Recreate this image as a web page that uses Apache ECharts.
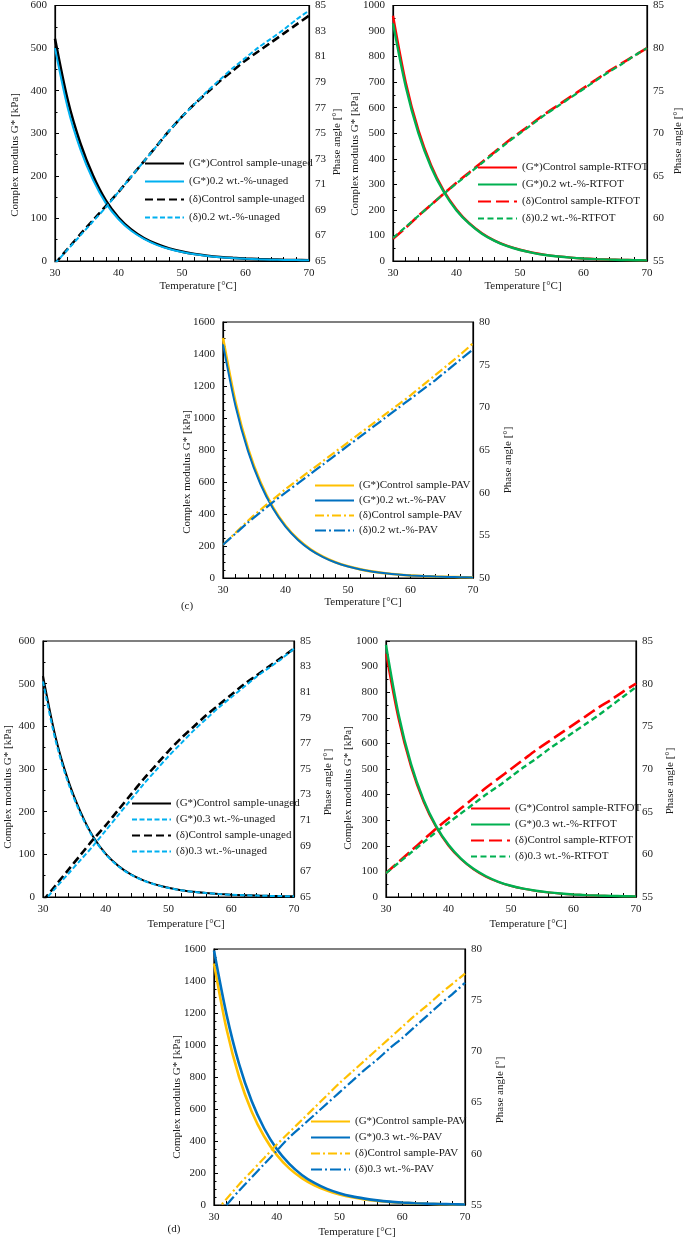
<!DOCTYPE html>
<html>
<head>
<meta charset="utf-8">
<script src="https://cdn.jsdelivr.net/npm/echarts@6/dist/echarts.min.js"></script>
<style>
html,body{margin:0;padding:0;background:#fff;}
#chart{width:685px;height:1239px;}
</style>
</head>
<body>
<div id="chart"></div>
<script>
// Temperature [°C]
const temps = [30,32,34,36,38,40,42,44,46,48,50,52,54,56,58,60,62,64,66,68,70];

// Panel 1: unaged, 0.2 wt.-%
const g1Control = [522,378,276,200,142,102,74,54,40,29.5,22,16.5,12.5,9.5,7.3,5.6,4.4,3.5,2.8,2.2,1.8];
const g1Mod     = [500,360,262,190,136,98,71,52,38,28,21,15.7,11.9,9,6.9,5.3,4.1,3.2,2.6,2.1,1.7];
const d1Control = [64.8,65.95,67.1,68.2,69.3,70.4,71.6,72.8,74.0,75.2,76.3,77.3,78.2,79.1,79.9,80.7,81.4,82.1,82.8,83.5,84.2];
const d1Mod     = [64.8,65.9,67.0,68.1,69.2,70.4,71.6,72.8,74.0,75.2,76.3,77.3,78.3,79.2,80.1,80.9,81.7,82.4,83.1,83.9,84.6];

// Panel 2: RTFOT, 0.2 wt.-%
const g2Control = [960,700,512,375,275,202,148,109,80,59,44,32.5,24,18,13.4,10,7.5,5.7,4.3,3.3,2.5];
const g2Mod     = [930,683,500,367,270,198,146,107,79,58,43,32,23.6,17.6,13.1,9.8,7.3,5.5,4.2,3.2,2.4];
const d2Control = [57.6,58.9,60.3,61.6,62.9,64.2,65.4,66.6,67.8,69.0,70.1,71.2,72.3,73.3,74.3,75.3,76.3,77.3,78.2,79.1,80.0];
const d2Mod     = [57.7,59.0,60.3,61.6,62.9,64.1,65.3,66.5,67.7,68.9,70.0,71.1,72.2,73.2,74.2,75.2,76.2,77.2,78.1,79.1,80.0];

// Panel 3 (c): PAV, 0.2 wt.-%
const g3Control = [1500,1100,810,598,442,327,242,179,133,98,73,54,40,30,22,16.5,12.3,9.2,6.9,5.2,3.9];
const g3Mod     = [1460,1075,793,586,434,321,238,176,131,97,72,53,39.5,29.5,21.8,16.2,12.1,9,6.8,5.1,3.8];
const d3Control = [53.9,55.3,56.7,58.0,59.2,60.4,61.5,62.6,63.7,64.8,65.9,67.0,68.1,69.2,70.3,71.4,72.6,73.8,75.0,76.2,77.5];
const d3Mod     = [53.9,55.2,56.5,57.7,58.9,60.0,61.1,62.2,63.3,64.4,65.5,66.6,67.7,68.8,69.9,71.0,72.1,73.2,74.4,75.6,76.8];

// Panel 4: unaged, 0.3 wt.-%
const g4Control = [518,375,274,199,141,101,73,53,39,29,21.5,16,12.2,9.3,7.1,5.5,4.3,3.4,2.7,2.2,1.8];
const g4Mod     = [505,367,268,195,139,100,72,52.5,38.5,28.6,21.2,15.8,12,9.2,7,5.4,4.2,3.3,2.6,2.1,1.7];
const d4Control = [64.7,65.9,67.1,68.3,69.5,70.6,71.8,73.0,74.2,75.3,76.4,77.4,78.3,79.2,80.0,80.8,81.6,82.3,83.0,83.7,84.4];
const d4Mod     = [64.6,65.7,66.8,67.9,69.0,70.2,71.4,72.6,73.8,74.9,76.0,77.0,78.0,78.9,79.8,80.6,81.4,82.2,82.9,83.6,84.4];

// Panel 5: RTFOT, 0.3 wt.-%
const g5Control = [950,695,508,372,273,200,147,108,79,58,43,32,23.7,17.6,13.1,9.8,7.3,5.5,4.1,3.1,2.4];
const g5Mod     = [985,715,520,380,278,204,150,110,81,59.5,44,32.6,24.2,18,13.4,10,7.5,5.6,4.2,3.2,2.4];
const d5Control = [57.8,59.1,60.4,61.7,63.0,64.2,65.4,66.6,67.8,68.9,70.0,71.1,72.2,73.2,74.2,75.2,76.2,77.2,78.1,79.1,80.0];
const d5Mod     = [57.8,59.0,60.2,61.4,62.6,63.7,64.8,65.9,67.0,68.0,69.1,70.2,71.2,72.3,73.3,74.3,75.3,76.3,77.4,78.5,79.6];

// Panel 6 (d): PAV, 0.3 wt.-%
const g6Control = [1510,1100,800,585,428,313,229,168,123,90,66,48,35,26,19,14,10.3,7.6,5.6,4.1,3];
const g6Mod     = [1590,1190,880,650,478,350,257,188,138,101,74,54,40,29,21,15.5,11.3,8.3,6.1,4.4,3.2];
const d6Control = [54.2,55.6,57.0,58.3,59.6,60.9,62.1,63.3,64.5,65.7,66.9,68.0,69.1,70.2,71.3,72.4,73.5,74.5,75.6,76.6,77.6];
const d6Mod     = [53.6,55.0,56.4,57.7,59.0,60.3,61.6,62.7,63.8,64.9,66.0,67.1,68.2,69.2,70.3,71.3,72.4,73.5,74.6,75.6,76.7];

// Axis ranges per panel: [leftMin, leftMax, leftStep, rightMin, rightMax, rightStep]
const axisRanges = [
  [0,600,100,65,85,2],
  [0,1000,100,55,85,5],
  [0,1600,200,50,80,5],
  [0,600,100,65,85,2],
  [0,1000,100,55,85,5],
  [0,1600,200,55,80,5]
];

const FONT = 'Liberation Serif';
const TXT = '#1a1a1a';

const grids = [
  {left:55, top:5, width:254, height:256},
  {left:393, top:5, width:254, height:256},
  {left:223, top:322, width:250, height:256},
  {left:43, top:641, width:251, height:256},
  {left:386, top:641, width:250, height:256},
  {left:214, top:949, width:251, height:256}
];
const minorSplits = [2,2,4,2,2,4];

const plain = v => String(v);
const xAxes = [], yAxes = [];
grids.forEach((g,i)=>{
  g.show = true; g.borderColor = '#000'; g.borderWidth = 1.2; g.containLabel = false;
  xAxes.push({
    type:'value', gridIndex:i, min:30, max:70, interval:10,
    axisLine:{show:true, lineStyle:{color:'#000', width:1.2}},
    axisTick:{show:true, inside:true, length:4, lineStyle:{color:'#000'}},
    minorTick:{show:true, splitNumber:5, length:4, lineStyle:{color:'#000'}},
    splitLine:{show:false},
    axisLabel:{color:TXT, fontFamily:FONT, fontSize:11, margin:7, formatter:plain}
  });
  const r = axisRanges[i];
  yAxes.push({
    type:'value', gridIndex:i, position:'left', min:r[0], max:r[1], interval:r[2],
    axisLine:{show:true, lineStyle:{color:'#000', width:1.2}},
    axisTick:{show:true, inside:true, length:4, lineStyle:{color:'#000'}},
    minorTick:{show:true, splitNumber:minorSplits[i], length:2.5, lineStyle:{color:'#000'}},
    splitLine:{show:false},
    axisLabel:{color:TXT, fontFamily:FONT, fontSize:11, margin:8, formatter:plain}
  });
  yAxes.push({
    type:'value', gridIndex:i, position:'right', min:r[3], max:r[4], interval:r[5],
    axisLine:{show:true, lineStyle:{color:'#000', width:1.2}},
    axisTick:{show:false},
    splitLine:{show:false},
    axisLabel:{color:TXT, fontFamily:FONT, fontSize:11, margin:6, formatter:plain}
  });
});

function mk(name, panel, right, arr, color, width, type){
  return {
    name, type:'line', xAxisIndex:panel, yAxisIndex:panel*2 + (right?1:0),
    data: temps.map((t,j)=>[t, arr[j]]),
    symbol:'none', showSymbol:false, smooth:0.3, clip:true,
    lineStyle:{color, width, type},
    itemStyle:{color},
    z: 3
  };
}

const BLACK='#000000', LBLUE='#00B0F0', RED='#FF0000', GREEN='#00B050', YEL='#FFC000', BLUE='#0070C0';
const dashBlack=[8,4], dashLBlue=[5,2.5], dashRed=[13,5], dashGreen=[6,3.5], dashDotY=[9,3,2,3], dashDotB=[11,3,2,3];

const names = [
  ['(G*)Control sample-unaged','(G*)0.2 wt.-%-unaged','(δ)Control sample-unaged','(δ)0.2 wt.-%-unaged'],
  ['(G*)Control sample-RTFOT','(G*)0.2 wt.-%-RTFOT','(δ)Control sample-RTFOT','(δ)0.2 wt.-%-RTFOT'],
  ['(G*)Control sample-PAV','(G*)0.2 wt.-%-PAV','(δ)Control sample-PAV','(δ)0.2 wt.-%-PAV'],
  ['(G*)Control sample-unaged','(G*)0.3 wt.-%-unaged','(δ)Control sample-unaged','(δ)0.3 wt.-%-unaged'],
  ['(G*)Control sample-RTFOT','(G*)0.3 wt.-%-RTFOT','(δ)Control sample-RTFOT','(δ)0.3 wt.-%-RTFOT'],
  ['(G*)Control sample-PAV','(G*)0.3 wt.-%-PAV','(δ)Control sample-PAV','(δ)0.3 wt.-%-PAV']
];

const series = [
  mk(names[0][0],0,false,g1Control,BLACK,2.6,'solid'),
  mk(names[0][1],0,false,g1Mod,LBLUE,2,'solid'),
  mk(names[0][2],0,true,d1Control,BLACK,2.6,dashBlack),
  mk(names[0][3],0,true,d1Mod,LBLUE,2,dashLBlue),

  mk(names[1][0],1,false,g2Control,RED,2.4,'solid'),
  mk(names[1][1],1,false,g2Mod,GREEN,2.4,'solid'),
  mk(names[1][2],1,true,d2Control,RED,2.6,dashRed),
  mk(names[1][3],1,true,d2Mod,GREEN,2.2,dashGreen),

  mk(names[2][0],2,false,g3Control,YEL,2.6,'solid'),
  mk(names[2][1],2,false,g3Mod,BLUE,2,'solid'),
  mk(names[2][2],2,true,d3Control,YEL,2.2,dashDotY),
  mk(names[2][3],2,true,d3Mod,BLUE,2.2,dashDotB),

  mk(names[3][0],3,false,g4Control,BLACK,2,'solid'),
  mk(names[3][1],3,false,g4Mod,LBLUE,2,dashLBlue),
  mk(names[3][2],3,true,d4Control,BLACK,2.6,dashBlack),
  mk(names[3][3],3,true,d4Mod,LBLUE,2,dashLBlue),

  mk(names[4][0],4,false,g5Control,RED,2,'solid'),
  mk(names[4][1],4,false,g5Mod,GREEN,2.4,'solid'),
  mk(names[4][2],4,true,d5Control,RED,2.6,dashRed),
  mk(names[4][3],4,true,d5Mod,GREEN,2.4,dashGreen),

  mk(names[5][0],5,false,g6Control,YEL,2.6,'solid'),
  mk(names[5][1],5,false,g6Mod,BLUE,2.6,'solid'),
  mk(names[5][2],5,true,d6Control,YEL,2.2,dashDotY),
  mk(names[5][3],5,true,d6Mod,BLUE,2.2,dashDotB)
];

const legendPos = [
  {left:144, top:158, gap:7},
  {left:477, top:162, gap:6},
  {left:314, top:480, gap:4},
  {left:131, top:798, gap:5},
  {left:470, top:803, gap:5},
  {left:310, top:1116, gap:5}
];
const legends = legendPos.map((p,i)=>({
  left:p.left, top:p.top, orient:'vertical', itemGap:p.gap,
  itemWidth:39, itemHeight:12, padding:0, selectedMode:false,
  itemStyle:{opacity:0, borderWidth:0},
  data: names[i],
  textStyle:{color:TXT, fontFamily:FONT, fontSize:11}
}));

function vtext(x,y,text){
  return {type:'text', x, y, rotation:Math.PI/2,
    style:{text, fill:TXT, font:'11px "Liberation Serif"', textAlign:'center', textVerticalAlign:'middle'}};
}
function htext(x,y,text){
  return {type:'text', x, y,
    style:{text, fill:TXT, font:'11px "Liberation Serif"', textAlign:'center', textVerticalAlign:'middle'}};
}
const leftTitle = 'Complex modulus G* [kPa]';
const rightTitle = 'Phase angle [°]';
const xTitle = 'Temperature [°C]';
const graphics = [
  vtext(15,155,leftTitle), vtext(337,142,rightTitle),
  vtext(355,154,leftTitle), vtext(678,141,rightTitle),
  vtext(187,472,leftTitle), vtext(508,460,rightTitle),
  vtext(8,787,leftTitle), vtext(328,782,rightTitle),
  vtext(348,788,leftTitle), vtext(670,781,rightTitle),
  vtext(177,1097,leftTitle), vtext(500,1090,rightTitle),
  htext(198,286,xTitle), htext(523,286,xTitle),
  htext(363,602,xTitle), htext(186,924,xTitle),
  htext(528,924,xTitle), htext(357,1232,xTitle),
  htext(187,606,'(c)'), htext(174,1229,'(d)')
];

const chart = echarts.init(document.getElementById('chart'), null, {renderer:'canvas'});
chart.setOption({
  animation:false,
  backgroundColor:'#ffffff',
  grid:grids, xAxis:xAxes, yAxis:yAxes, legend:legends, series, graphic:graphics
});
</script>
</body>
</html>
